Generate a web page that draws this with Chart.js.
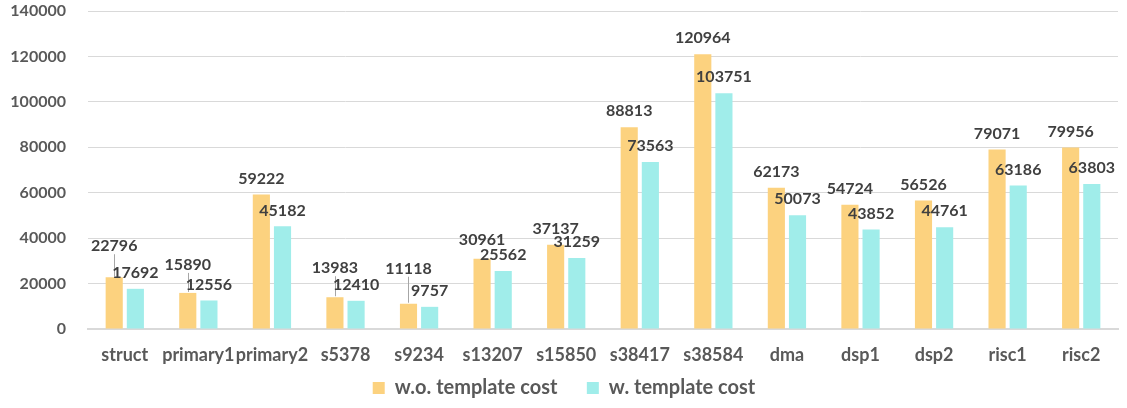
<!DOCTYPE html>
<html>
<head>
<meta charset="utf-8">
<script src="https://cdn.jsdelivr.net/npm/chart.js@4/dist/chart.umd.min.js"></script>
<style>
  html, body { margin: 0; padding: 0; background: #fff; }
  #wrap { width: 1127px; height: 408px; }
</style>
</head>
<body>
<div id="wrap"><canvas id="myChart"></canvas></div>
<script>
const categories = ["struct", "primary1", "primary2", "s5378", "s9234", "s13207", "s15850",
                    "s38417", "s38584", "dma", "dsp1", "dsp2", "risc1", "risc2"];
const costWithout = [22796, 15890, 59222, 13983, 11118, 30961, 37137, 88813, 120964, 62173, 54724, 56526, 79071, 79956];
const costWith = [17692, 12556, 45182, 12410, 9757, 25562, 31259, 73563, 103751, 50073, 43852, 44761, 63186, 63803];
const yTicks = [0, 20000, 40000, 60000, 80000, 100000, 120000, 140000];

// extra lift (px) for labels that were dragged up in the original, by dataset
const labelLift = [
	[15, 12, 0, 13, 19, 3, 0, 0, 0, 0, 0, 0, 0, 0],
	[0, 0, 0, 0, 0, 0, 0, 0, 0, 0, 0, 0, 0, 0]
];

const FONT = "Lato, 'Open Sans', sans-serif";

const barLabels = {
	id: "barLabels",
	afterDatasetsDraw(chart) {
		const ctx = chart.ctx;
		ctx.save();
		ctx.font = "bold 16px " + FONT;
		ctx.textAlign = "center";
		ctx.textBaseline = "middle";
		chart.data.datasets.forEach((ds, di) => {
			const meta = chart.getDatasetMeta(di);
			meta.data.forEach((bar, i) => {
				const lift = labelLift[di][i];
				const y = bar.y - 16 - lift;
				if (lift > 5) {
					// leader line
					ctx.strokeStyle = "#a6a6a6";
					ctx.lineWidth = 1;
					ctx.beginPath();
					ctx.moveTo(Math.round(bar.x) + 0.5, bar.y - 1);
					ctx.lineTo(Math.round(bar.x) + 0.5, y + 8);
					ctx.stroke();
				}
				ctx.fillStyle = "#404040";
				ctx.fillText(String(ds.data[i]), bar.x, y);
			});
		});
		ctx.restore();
	}
};

new Chart(document.getElementById("myChart"), {
	type: "bar",
	data: {
		labels: categories,
		datasets: [{
			label: "w.o. template cost",
			data: costWithout,
			backgroundColor: "#fcd27f",
			categoryPercentage: 0.575,
			barPercentage: 0.81
		}, {
			label: "w. template cost",
			data: costWith,
			backgroundColor: "#a0edea",
			categoryPercentage: 0.575,
			barPercentage: 0.81
		}]
	},
	options: {
		responsive: true,
		maintainAspectRatio: false,
		animation: false,
		layout: {
			padding: { left: 10, right: 9, top: 0, bottom: 0 }
		},
		plugins: {
			legend: {
				position: "bottom",
				labels: {
					boxWidth: 12,
					boxHeight: 12,
					padding: 10,
					color: "#595959",
					font: { family: FONT, size: 20, weight: "bold" },
					generateLabels: (chart) => {
						const items = Chart.defaults.plugins.legend.labels.generateLabels(chart);
						// wider gap after the first entry
						items[0].text += "    ";
						return items;
					}
				}
			},
			tooltip: { enabled: false }
		},
		scales: {
			x: {
				grid: { display: false },
				border: { color: "#d9d9d9", width: 2 },
				afterFit: (scale) => { scale.height = 39; },
				ticks: {
					color: "#595959",
					padding: 7,
					maxRotation: 0,
					autoSkip: false,
					font: { family: FONT, size: 18, weight: "bold" }
				}
			},
			y: {
				min: 0,
				max: 140000,
				afterBuildTicks: (axis) => { axis.ticks = yTicks.map(v => ({ value: v })); },
				afterFit: (scale) => {
					scale.width = 78;
					scale.paddingTop = 11;
					scale.paddingBottom = 0;
				},
				grid: { color: "#d9d9d9", lineWidth: 1, drawTicks: false },
				border: { display: false },
				ticks: {
					color: "#595959",
					padding: 22,
					callback: (v) => String(v),
					font: { family: FONT, size: 16, weight: "bold" }
				}
			}
		}
	},
	plugins: [barLabels]
});
</script>
</body>
</html>
